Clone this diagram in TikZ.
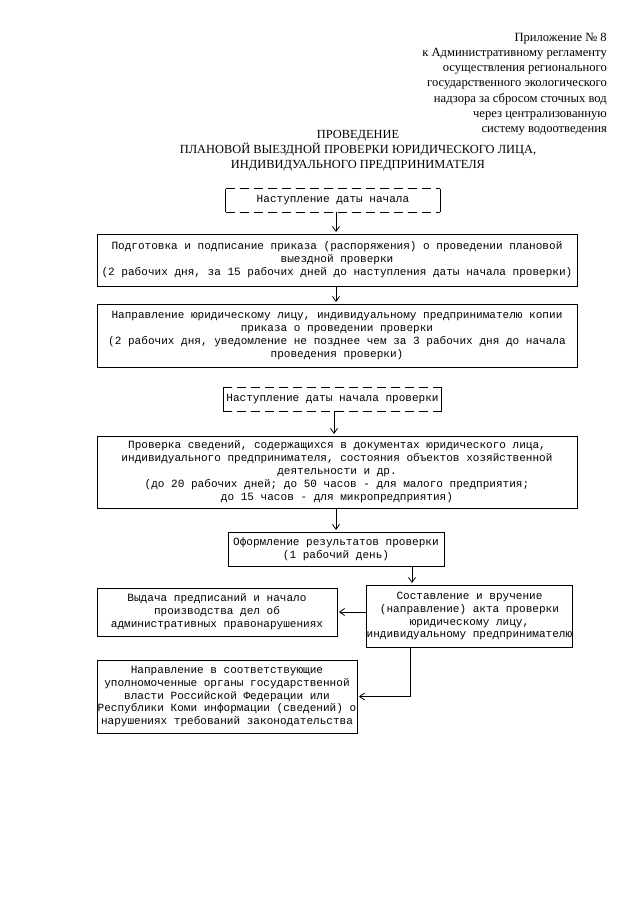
\documentclass[tikz,border=0pt]{standalone}
\usepackage{fontspec}
\setmainfont{Liberation Serif}
\newfontfamily\boxfont{Liberation Mono}
\usetikzlibrary{arrows.meta}
\tikzset{
  boxstyle/.style={draw, line width=0.9pt, inner sep=0pt, align=center,
    font=\boxfont\fontsize{11.05}{12.9}\selectfont},
  dashbox/.style={inner sep=0pt, align=center,
    font=\boxfont\fontsize{11.05}{12.9}\selectfont},
  dashline/.style={line width=1pt, dash pattern=on 9pt off 5pt},
  sideline/.style={line width=0.9pt},
  arr/.style={line width=0.8pt, -{Straight Barb[length=5pt,width=7pt]}, shorten >=1.5pt},
}
\begin{document}
\begin{tikzpicture}[x=1pt,y=-1pt]
\useasboundingbox (0,0) rectangle (640,905);
% header
\node[anchor=north east, align=right, inner sep=0pt,
  font=\fontsize{12.6}{15.3}\selectfont] (hdr) at (607,32.5)
  {Приложение № 8\\к Административному регламенту\\осуществления регионального\\государственного экологического\\надзора за сбросом сточных вод\\через централизованную\\систему водоотведения};
\node[anchor=north, align=center, inner sep=0pt,
  font=\fontsize{12.4}{14.6}\selectfont] (ttl) at (358,130.5)
  {ПРОВЕДЕНИЕ\\ПЛАНОВОЙ ВЫЕЗДНОЙ ПРОВЕРКИ ЮРИДИЧЕСКОГО ЛИЦА,\\ИНДИВИДУАЛЬНОГО ПРЕДПРИНИМАТЕЛЯ};
% boxes
\node[dashbox, minimum width=214pt, minimum height=23pt] (b1) at (333,200.5)
  {Наступление даты начала};
\draw[dashline] (b1.north west) -- (b1.north east);
\draw[dashline] (b1.south west) -- (b1.south east);
\draw[sideline] (b1.north west) -- (b1.south west);
\draw[sideline] (b1.north east) -- (b1.south east);
\node[boxstyle, minimum width=480pt, minimum height=52pt] (b2) at (337,260)
  {Подготовка и подписание приказа (распоряжения) о проведении плановой\\выездной проверки\\(2 рабочих дня, за 15 рабочих дней до наступления даты начала проверки)};
\node[boxstyle, minimum width=480pt, minimum height=63pt] (b3) at (337,335.5)
  {Направление юридическому лицу, индивидуальному предпринимателю копии\\приказа о проведении проверки\\(2 рабочих дня, уведомление не позднее чем за 3 рабочих дня до начала\\проведения проверки)};
\node[dashbox, minimum width=218pt, minimum height=23pt] (b4) at (332.5,399.5)
  {Наступление даты начала проверки};
\draw[dashline] (b4.north west) -- (b4.north east);
\draw[dashline] (b4.south west) -- (b4.south east);
\draw[sideline] (b4.north west) -- (b4.south west);
\draw[sideline] (b4.north east) -- (b4.south east);
\node[boxstyle, minimum width=480pt, minimum height=72pt] (b5) at (337,472)
  {Проверка сведений, содержащихся в документах юридического лица,\\индивидуального предпринимателя, состояния объектов хозяйственной\\деятельности и др.\\(до 20 рабочих дней; до 50 часов - для малого предприятия;\\до 15 часов - для микропредприятия)};
\node[boxstyle, minimum width=216pt, minimum height=34pt] (b6) at (336,549)
  {Оформление результатов проверки\\(1 рабочий день)};
\node[boxstyle, minimum width=240pt, minimum height=48pt] (b7) at (217,612)
  {Выдача предписаний и начало\\производства дел об\\административных правонарушениях};
\node[boxstyle, minimum width=204pt, minimum height=62pt] (b8) at (469.5,616)
  {Составление и вручение\\(направление) акта проверки\\юридическому лицу,\\индивидуальному предпринимателю};
\node[boxstyle, minimum width=260pt, minimum height=73pt] (b9) at (227,696.5)
  {Направление в соответствующие\\уполномоченные органы государственной\\власти Российской Федерации или\\Республики Коми информации (сведений) о\\нарушениях требований законодательства};
% connectors
\coordinate (cx1) at (336,0);
\coordinate (cx2) at (334,0);
\coordinate (cx3) at (412,0);
\coordinate (cx4) at (410,0);
\draw[arr] (b1.south -| cx1) -- (b2.north -| cx1);
\draw[arr] (b2.south -| cx1) -- (b3.north -| cx1);
\draw[arr] (b4.south -| cx2) -- (b5.north -| cx2);
\draw[arr] (b5.south -| cx1) -- (b6.north -| cx1);
\draw[arr] (b6.south -| cx3) -- (b8.north -| cx3);
\draw[arr] (b8.west |- b7.east) -- (b7.east);
\draw[arr] (b8.south -| cx4) |- (b9.east);
\end{tikzpicture}
\end{document}
